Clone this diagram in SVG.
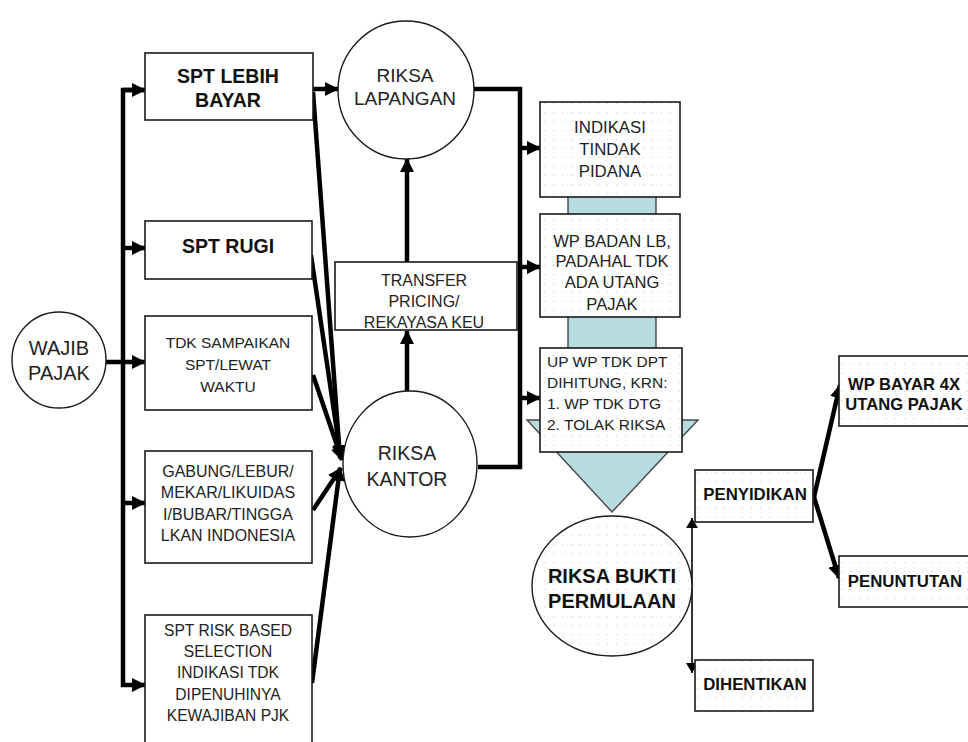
<svg xmlns="http://www.w3.org/2000/svg" width="968" height="742" viewBox="0 0 968 742">
<style>
.box{fill:#fff;stroke:#1a1a1a;stroke-width:1.6}
.dbox{fill:url(#dots);stroke:#1a1a1a;stroke-width:1.6}
.circ{fill:#fff;stroke:#1a1a1a;stroke-width:1.4}
.t{font-family:"Liberation Sans",Arial,sans-serif;font-size:16px;fill:#222;text-anchor:middle}
.tl{font-family:"Liberation Sans",Arial,sans-serif;font-size:16px;fill:#222}
.b{font-weight:bold;fill:#111}
.thick{fill:none;stroke:#000;stroke-width:4.5;stroke-linejoin:miter}
.thin{fill:none;stroke:#000;stroke-width:1.6}
</style>
<defs>
<pattern id="dots" width="9" height="9" patternUnits="userSpaceOnUse">
<rect width="9" height="9" fill="#fff"/>
<circle cx="4.5" cy="4.5" r="0.6" fill="#c8c8c8"/>
</pattern>
<marker id="ah" viewBox="0 0 14 14" refX="13" refY="7" markerWidth="14" markerHeight="14" markerUnits="userSpaceOnUse" orient="auto">
<path d="M0,0 L14,7 L0,14 z" fill="#000"/>
</marker>
<marker id="ahs" viewBox="0 0 10 12" refX="10" refY="6" markerWidth="10" markerHeight="12" markerUnits="userSpaceOnUse" orient="auto-start-reverse">
<path d="M0,0 L10,6 L0,12 z" fill="#000"/>
</marker>
</defs>
<rect width="968" height="742" fill="#fff"/>

<g id="big-arrow">
<path d="M568,150 L656,150 L656,420 L698,420 L612,512 L527,420 L568,420 Z" fill="#b7dce0" stroke="#444" stroke-width="1.4"/>
</g>

<g id="connectors">
<line class="thick" x1="106" y1="362" x2="145" y2="362" marker-end="url(#ah)"/>
<path class="thick" d="M145,90 L123,90 L123,685 L145,685" marker-end="url(#ah)"/>
<line class="thick" x1="123" y1="90" x2="145" y2="90" marker-end="url(#ah)"/>
<line class="thick" x1="123" y1="248" x2="145" y2="248" marker-end="url(#ah)"/>
<line class="thick" x1="123" y1="503" x2="145" y2="503" marker-end="url(#ah)"/>
<line class="thick" x1="313" y1="89" x2="338" y2="89" marker-end="url(#ah)"/>
<line class="thick" x1="313" y1="92" x2="340" y2="458" marker-end="url(#ah)"/>
<line class="thick" x1="311" y1="255" x2="341" y2="459" marker-end="url(#ah)"/>
<line class="thick" x1="313" y1="375" x2="342" y2="460" marker-end="url(#ah)"/>
<line class="thick" x1="313" y1="510" x2="341" y2="468" marker-end="url(#ah)"/>
<line class="thick" x1="312" y1="683" x2="340" y2="468" marker-end="url(#ah)"/>
<line class="thick" x1="407" y1="262" x2="407" y2="159" marker-end="url(#ah)"/>
<line class="thick" x1="407" y1="391" x2="407" y2="331" marker-end="url(#ah)"/>
<path class="thick" d="M474,89 L520,89 L520,467 L478,467"/>
<line class="thick" x1="520" y1="148" x2="540" y2="148" marker-end="url(#ah)"/>
<line class="thick" x1="520" y1="267" x2="540" y2="267" marker-end="url(#ah)"/>
<line class="thick" x1="520" y1="398" x2="540" y2="398" marker-end="url(#ah)"/>
<line class="thin" x1="692" y1="518" x2="692" y2="673" marker-start="url(#ahs)" marker-end="url(#ahs)"/>
<line class="thick" x1="814" y1="497" x2="840" y2="385" marker-end="url(#ah)"/>
<line class="thick" x1="814" y1="497" x2="839" y2="578" marker-end="url(#ah)"/>
</g>

<g id="wajib-pajak">
<ellipse class="circ" cx="59" cy="360" rx="47" ry="48"/>
<text class="t" x="59" y="355" style="font-size:20px">WAJIB</text>
<text class="t" x="59" y="380" style="font-size:20px">PAJAK</text>
</g>

<g id="spt-lebih-bayar">
<rect class="box" x="145" y="53" width="168" height="67"/>
<text class="t b" x="228" y="83" style="font-size:19.5px">SPT LEBIH</text>
<text class="t b" x="228" y="107" style="font-size:19.5px">BAYAR</text>
</g>

<g id="spt-rugi">
<rect class="box" x="145" y="221" width="167" height="58"/>
<text class="t b" x="228" y="253" style="font-size:19.5px">SPT RUGI</text>
</g>

<g id="tdk-sampaikan">
<rect class="box" x="145" y="316" width="167" height="94"/>
<text class="t" x="228" y="348" style="font-size:15.5px">TDK SAMPAIKAN</text>
<text class="t" x="228" y="370" style="font-size:15.5px">SPT/LEWAT</text>
<text class="t" x="228" y="392" style="font-size:15.5px">WAKTU</text>
</g>

<g id="gabung">
<rect class="box" x="145" y="451" width="167" height="112"/>
<text class="t" x="228" y="477">GABUNG/LEBUR/</text>
<text class="t" x="228" y="498">MEKAR/LIKUIDAS</text>
<text class="t" x="228" y="520">I/BUBAR/TINGGA</text>
<text class="t" x="228" y="541">LKAN INDONESIA</text>
</g>

<g id="spt-risk">
<rect class="box" x="145" y="615" width="167" height="135"/>
<text class="t" x="228" y="636" style="font-size:15.6px">SPT RISK BASED</text>
<text class="t" x="228" y="657" style="font-size:15.6px">SELECTION</text>
<text class="t" x="228" y="678" style="font-size:15.6px">INDIKASI TDK</text>
<text class="t" x="228" y="700" style="font-size:15.6px">DIPENUHINYA</text>
<text class="t" x="228" y="721" style="font-size:15.6px">KEWAJIBAN PJK</text>
</g>

<g id="riksa-lapangan">
<ellipse class="circ" cx="406" cy="90" rx="68" ry="69"/>
<text class="t" x="405" y="82" style="font-size:19px">RIKSA</text>
<text class="t" x="405" y="105" style="font-size:19px">LAPANGAN</text>
</g>

<g id="transfer-pricing">
<rect class="box" x="335" y="262" width="182" height="68"/>
<text class="t" x="424" y="286">TRANSFER</text>
<text class="t" x="424" y="307">PRICING/</text>
<text class="t" x="424" y="328">REKAYASA KEU</text>
</g>

<g id="riksa-kantor">
<ellipse class="circ" cx="410" cy="464" rx="67" ry="73"/>
<text class="t" x="407" y="460" style="font-size:19.5px">RIKSA</text>
<text class="t" x="407" y="486" style="font-size:19.5px">KANTOR</text>
</g>

<g id="indikasi-pidana">
<rect class="dbox" x="540" y="102" width="140" height="95"/>
<text class="t" x="610" y="133" style="font-size:16.8px">INDIKASI</text>
<text class="t" x="610" y="155" style="font-size:16.8px">TINDAK</text>
<text class="t" x="610" y="177" style="font-size:16.8px">PIDANA</text>
</g>

<g id="wp-badan">
<rect class="dbox" x="540" y="214" width="140" height="103"/>
<text class="t" x="612" y="247" style="font-size:16.6px">WP BADAN LB,</text>
<text class="t" x="612" y="267" style="font-size:16.6px">PADAHAL TDK</text>
<text class="t" x="612" y="288" style="font-size:16.6px">ADA UTANG</text>
<text class="t" x="612" y="310" style="font-size:16.6px">PAJAK</text>
</g>

<g id="up-wp">
<rect class="dbox" x="540" y="348" width="142" height="104"/>
<text class="tl" x="547" y="367" style="font-size:15.5px">UP WP TDK DPT</text>
<text class="tl" x="547" y="388" style="font-size:15.5px">DIHITUNG, KRN:</text>
<text class="tl" x="547" y="409" style="font-size:15.5px">1. WP TDK DTG</text>
<text class="tl" x="547" y="430" style="font-size:15.5px">2. TOLAK RIKSA</text>
</g>

<g id="riksa-bukti">
<ellipse class="circ" cx="612" cy="586" rx="80" ry="70" style="fill:url(#dots)"/>
<text class="t b" x="612" y="583" style="font-size:20px">RIKSA BUKTI</text>
<text class="t b" x="612" y="608" style="font-size:20px">PERMULAAN</text>
</g>

<g id="penyidikan">
<rect class="dbox" x="695" y="470" width="118" height="52"/>
<text class="t b" x="755" y="500" style="font-size:16.8px">PENYIDIKAN</text>
</g>

<g id="dihentikan">
<rect class="dbox" x="695" y="660" width="118" height="51"/>
<text class="t b" x="755" y="690" style="font-size:16.8px">DIHENTIKAN</text>
</g>

<g id="wp-bayar">
<rect class="dbox" x="839" y="356" width="136" height="70"/>
<text class="t b" x="904" y="390" style="font-size:16.6px">WP BAYAR 4X</text>
<text class="t b" x="904" y="410" style="font-size:16.6px">UTANG PAJAK</text>
</g>

<g id="penuntutan">
<rect class="dbox" x="839" y="556" width="136" height="51"/>
<text class="t b" x="905" y="587" style="font-size:16.8px">PENUNTUTAN</text>
</g>
</svg>
